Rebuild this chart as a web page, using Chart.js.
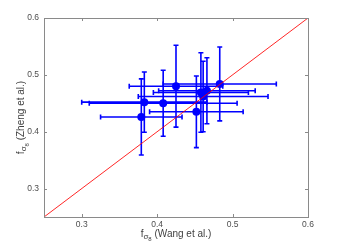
<!DOCTYPE html>
<html><head><meta charset="utf-8">
<script src="https://cdn.jsdelivr.net/npm/chart.js@4"></script>
<style>html,body{margin:0;padding:0;background:#fff}#wrap{width:341px;height:248px;position:relative}</style>
</head><body><div id="wrap"><canvas id="c" width="341" height="248"></canvas></div>
<script>
// f sigma8 measurements
const wangX     = [0.379, 0.383, 0.408, 0.425, 0.483, 0.458, 0.466, 0.461, 0.452];
const zhengY    = [0.426, 0.452, 0.450, 0.480, 0.484, 0.469, 0.472, 0.462, 0.435];
const wangErr   = [0.054, 0.083, 0.098, 0.062, 0.075, 0.063, 0.064, 0.086, 0.062];
const zhengErr  = [0.067, 0.053, 0.058, 0.072, 0.065, 0.070, 0.058, 0.062, 0.063];
const xTicks = [0.3, 0.4, 0.5, 0.6];
const yTicks = [0.3, 0.4, 0.5, 0.6];
const axisMin = 0.25, axisMax = 0.6;
const diagX = [0.25, 0.6];

const FONT = "'Liberation Sans', Arial, Helvetica, sans-serif";
const BLUE = 'rgb(0,0,255)';
const AXIS = '#8a8a8a';

const points = wangX.map((x, i) => ({x: x, y: zhengY[i]}));
const diag = diagX.map(v => ({x: v, y: v}));

const errorBars = {
  id: 'errorBars',
  beforeDatasetsDraw(chart) {
    const {ctx, scales: {x, y}} = chart;
    ctx.save();
    ctx.strokeStyle = BLUE;
    ctx.lineWidth = 1.6;
    const cap = 2.5;
    wangX.forEach((vx, i) => {
      const vy = zhengY[i];
      const px = x.getPixelForValue(vx), py = y.getPixelForValue(vy);
      const x0 = x.getPixelForValue(vx - wangErr[i]), x1 = x.getPixelForValue(vx + wangErr[i]);
      const y0 = y.getPixelForValue(vy - zhengErr[i]), y1 = y.getPixelForValue(vy + zhengErr[i]);
      ctx.beginPath();
      ctx.moveTo(x0, py); ctx.lineTo(x1, py);
      ctx.moveTo(x0, py - cap); ctx.lineTo(x0, py + cap);
      ctx.moveTo(x1, py - cap); ctx.lineTo(x1, py + cap);
      ctx.moveTo(px, y0); ctx.lineTo(px, y1);
      ctx.moveTo(px - cap, y0); ctx.lineTo(px + cap, y0);
      ctx.moveTo(px - cap, y1); ctx.lineTo(px + cap, y1);
      ctx.stroke();
    });
    ctx.restore();
  }
};

const boxAxes = {
  id: 'boxAxes',
  afterDraw(chart) {
    const {ctx, chartArea: a, scales: {x, y}} = chart;
    ctx.save();
    ctx.strokeStyle = AXIS;
    ctx.lineWidth = 1;
    ctx.strokeRect(Math.round(a.left) + 0.5, Math.round(a.top) + 0.5,
                   Math.round(a.right - a.left), Math.round(a.bottom - a.top));
    const tl = 3;
    ctx.beginPath();
    xTicks.forEach(v => {
      const px = Math.round(x.getPixelForValue(v)) + 0.5;
      ctx.moveTo(px, a.bottom); ctx.lineTo(px, a.bottom - tl);
      ctx.moveTo(px, a.top); ctx.lineTo(px, a.top + tl);
    });
    yTicks.forEach(v => {
      const py = Math.round(y.getPixelForValue(v)) + 0.5;
      ctx.moveTo(a.left, py); ctx.lineTo(a.left + tl, py);
      ctx.moveTo(a.right, py); ctx.lineTo(a.right - tl, py);
    });
    ctx.stroke();

    // axis titles with sub/subscripts
    function drawTitle(rest) {
      const parts = [
        {t: 'f', s: 10, dy: 0},
        {t: 'σ', s: 8, dy: 2},
        {t: '8', s: 6, dy: 4.5},
        {t: rest, s: 10, dy: 0}
      ];
      let w = 0;
      parts.forEach(p => { ctx.font = p.s + 'px ' + FONT; p.w = ctx.measureText(p.t).width; w += p.w; });
      let cx = -w / 2;
      ctx.fillStyle = '#404040';
      ctx.textBaseline = 'alphabetic';
      ctx.textAlign = 'left';
      parts.forEach(p => { ctx.font = p.s + 'px ' + FONT; ctx.fillText(p.t, cx, p.dy); cx += p.w; });
    }
    const cxp = (a.left + a.right) / 2, cyp = (a.top + a.bottom) / 2;
    ctx.save();
    ctx.translate(cxp, 236.5);
    drawTitle(' (Wang et al.)');
    ctx.restore();
    ctx.save();
    ctx.translate(24, cyp);
    ctx.rotate(-Math.PI / 2);
    drawTitle(' (Zheng et al.)');
    ctx.restore();
    ctx.restore();
  }
};

new Chart(document.getElementById('c'), {
  type: 'scatter',
  data: {
    datasets: [
      {
        type: 'line',
        data: diag,
        borderColor: 'rgba(255,0,0,0.85)',
        borderWidth: 1,
        pointRadius: 0,
        fill: false,
        order: 0
      },
      {
        data: points,
        backgroundColor: BLUE,
        borderColor: BLUE,
        pointRadius: 4,
        pointBorderWidth: 0,
        order: 1
      }
    ]
  },
  options: {
    responsive: false,
    devicePixelRatio: 1,
    animation: false,
    layout: {padding: {top: 18, right: 33, left: 0, bottom: 0}},
    plugins: {legend: {display: false}, tooltip: {enabled: false}},
    scales: {
      x: {
        type: 'linear', min: axisMin, max: axisMax,
        grid: {display: false, drawTicks: false},
        border: {display: false},
        afterBuildTicks(s) { s.ticks = xTicks.map(v => ({value: v})); },
        afterFit(s) { s.height = 31; },
        ticks: {padding: 3, color: '#4d4d4d', font: {family: FONT, size: 8.5}, callback: v => String(v)}
      },
      y: {
        type: 'linear', min: axisMin, max: axisMax,
        grid: {display: false, drawTicks: false},
        border: {display: false},
        afterBuildTicks(s) { s.ticks = yTicks.map(v => ({value: v})); },
        afterFit(s) { s.width = 44; },
        ticks: {padding: 5, color: '#4d4d4d', font: {family: FONT, size: 8.5}, callback: v => String(v)}
      }
    }
  },
  plugins: [errorBars, boxAxes]
});
</script></body></html>
